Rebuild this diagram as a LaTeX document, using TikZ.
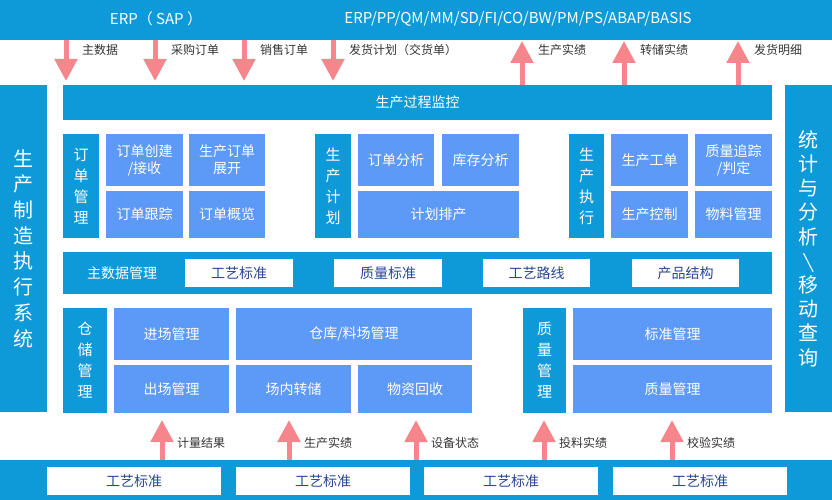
\documentclass[tikz,border=0pt]{standalone}
\usepackage{fontspec}
\setmainfont{Noto Sans CJK SC}
\newfontfamily\djv{DejaVu Sans}
\usetikzlibrary{arrows.meta}
\definecolor{mb}{RGB}{14,154,216}
\definecolor{lb}{RGB}{93,153,246}
\definecolor{pk}{RGB}{246,134,140}
\definecolor{nv}{RGB}{40,70,150}
\definecolor{tg}{RGB}{51,51,51}
\newcommand\bx[7]{\node[#6, minimum width={(#4-#2)*1pt}, minimum height={(#5-#3)*1pt}] (#1) at ({(#2+#4)/2},{(#3+#5)/2}) {#7};}
\begin{document}
\begin{tikzpicture}[x=1pt,y=-1pt,
  every node/.style={inner sep=0pt,outer sep=0pt},
  bar/.style={fill=mb,text=white,font=\fontsize{14}{16}\selectfont},
  lab/.style={fill=mb,text=white,align=center,font=\fontsize{15}{21}\selectfont},
  side/.style={fill=mb,text=white,align=center},
  lbox/.style={fill=lb,text=white,align=center,font=\fontsize{14}{17}\selectfont},
  wbox/.style={fill=white,text=nv,font=\fontsize{14}{16}\selectfont},
  toptxt/.style={text=white,font=\fontsize{15}{17}\selectfont},
  parr/.style={draw=pk,line width=5pt,-{Triangle[width=22pt,length=22pt]}},
  alab/.style={anchor=west,text=tg,font=\fontsize{12}{14}\selectfont}]
\useasboundingbox (0,0) rectangle (832,500);
% top bar
\bx{top}{0}{0}{832}{40}{fill=mb}{}
\node[toptxt] (erp1) at (156,19) {ERP（ SAP ）};
\node[toptxt] (erp2) at (518,19) {ERP/PP/QM/MM/SD/FI/CO/BW/PM/PS/ABAP/BASIS};
% monitor bar
\bx{mon}{63}{85}{772}{120}{bar}{生产过程监控}
% side bars
\bx{lside}{0}{85}{47}{412}{side,font=\fontsize{20}{25.7}\selectfont}{生\\产\\制\\造\\执\\行\\系\\统}
\bx{rside}{785}{85}{832}{412}{side,font=\fontsize{20}{24.2}\selectfont}{统\\计\\与\\分\\析\\{\djv\fontsize{16}{24.2}\selectfont ╲}\\移\\动\\查\\询}
% down arrows
\foreach \x/\t [count=\i] in {66/主数据,155/采购订单,244/销售订单,333/发货计划（交货单）}{
  \coordinate (ds\i) at (\x,40);
  \coordinate (de\i) at (\x,81);
  \draw[parr] (ds\i) -- (de\i);
  \node[alab] (dl\i) at (\x+16,50) {\t};
}
% up arrows top
\foreach \x/\t [count=\i] in {522/生产实绩,624/转储实绩,738/发货明细}{
  \coordinate (us\i) at (\x,85);
  \coordinate (ue\i) at (\x,41);
  \draw[parr] (us\i) -- (ue\i);
  \node[alab] (ul\i) at (\x+16,50) {\t};
}
% row 2
\bx{ddgl}{63}{134}{99}{238}{lab}{订\\单\\管\\理}
\bx{ddcj}{106}{134}{183}{186}{lbox}{订单创建\\/接收}
\bx{scdd}{189}{134}{265}{186}{lbox}{生产订单\\展开}
\bx{ddgz}{106}{191}{183}{238}{lbox}{订单跟踪}
\bx{ddgl2}{189}{191}{265}{238}{lbox}{订单概览}
\bx{scjh}{315}{134}{351}{238}{lab}{生\\产\\计\\划}
\bx{ddfx}{358}{134}{434}{186}{lbox}{订单分析}
\bx{kcfx}{442}{134}{519}{186}{lbox}{库存分析}
\bx{jhpc}{358}{191}{519}{238}{lbox}{计划排产}
\bx{sczx}{569}{134}{604}{238}{lab}{生\\产\\执\\行}
\bx{scgd}{611}{134}{688}{186}{lbox}{生产工单}
\bx{zlzz}{695}{134}{772}{186}{lbox}{质量追踪\\/判定}
\bx{sckz}{611}{191}{688}{238}{lbox}{生产控制}
\bx{wlgl}{695}{191}{772}{238}{lbox}{物料管理}
% master data bar
\bx{zsj}{63}{252}{772}{294}{fill=mb}{}
\node[text=white,font=\fontsize{14}{16}\selectfont] (zsjt) at (122,273) {主数据管理};
\bx{gybz}{185}{259}{293}{287}{wbox}{工艺标准}
\bx{zlbz}{334}{259}{442}{287}{wbox}{质量标准}
\bx{gylx}{483}{259}{590}{287}{wbox}{工艺路线}
\bx{cpjg}{632}{259}{739}{287}{wbox}{产品结构}
% row 4
\bx{ccgl}{63}{308}{107}{413}{lab}{仓\\储\\管\\理}
\bx{jcgl}{114}{308}{229}{360}{lbox}{进场管理}
\bx{ckgl}{236}{308}{472}{360}{lbox}{仓库/料场管理}
\bx{chgl}{114}{365}{229}{413}{lbox}{出场管理}
\bx{cnzc}{236}{365}{351}{413}{lbox}{场内转储}
\bx{wzhs}{358}{365}{472}{413}{lbox}{物资回收}
\bx{zlgl}{523}{308}{566}{413}{lab}{质\\量\\管\\理}
\bx{bzgl}{573}{308}{772}{360}{lbox}{标准管理}
\bx{zlgl2}{573}{365}{772}{413}{lbox}{质量管理}
% bottom bar
\bx{bot}{0}{460}{832}{500}{fill=mb}{}
\bx{b1}{47}{467}{221}{495}{wbox}{工艺标准}
\bx{b2}{236}{467}{410}{495}{wbox}{工艺标准}
\bx{b3}{424}{467}{598}{495}{wbox}{工艺标准}
\bx{b4}{613}{467}{787}{495}{wbox}{工艺标准}
% bottom up arrows
\foreach \x/\t [count=\i] in {162/计量结果,289/生产实绩,416/设备状态,544/投料实绩,672/校验实绩}{
  \coordinate (bs\i) at (\x,460);
  \coordinate (be\i) at (\x,420);
  \draw[parr] (bs\i) -- (be\i);
  \node[alab] (bl\i) at (\x+15,443) {\t};
}
\end{tikzpicture}
\end{document}
